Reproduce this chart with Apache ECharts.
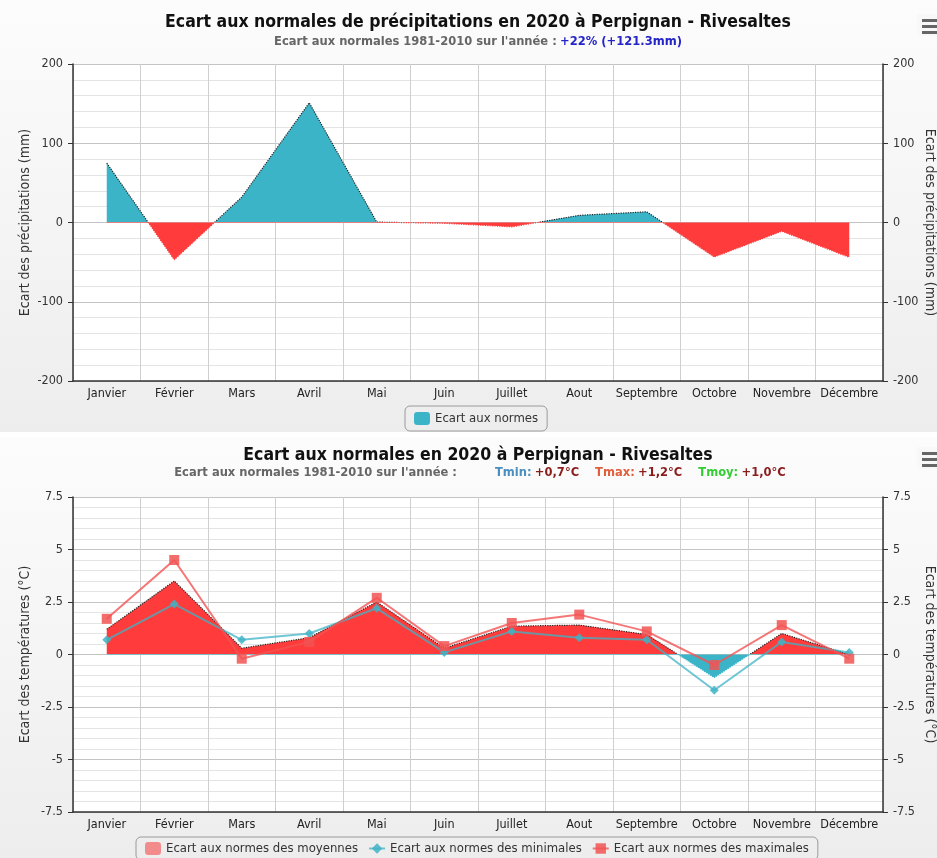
<!DOCTYPE html>
<html>
<head>
<meta charset="utf-8">
<script src="https://cdn.jsdelivr.net/npm/echarts@6/dist/echarts.min.js"></script>
<style>
  html, body { margin: 0; padding: 0; background: #fff; overflow: hidden; }
  #chart { width: 937px; height: 858px; }
</style>
</head>
<body>
<div id="chart"></div>
<script>
// données
const months = ['Janvier', 'Février', 'Mars', 'Avril', 'Mai', 'Juin', 'Juillet', 'Aout', 'Septembre', 'Octobre', 'Novembre', 'Décembre'];
const precipEcart = [75, -47, 32, 151, 0.5, -1, -5.5, 9, 13.5, -43.5, -11, -44];
const tmoyEcart = [1.2, 3.5, 0.3, 0.8, 2.5, 0.3, 1.35, 1.4, 0.95, -1.1, 1.0, 0];
const tminEcart = [0.7, 2.4, 0.7, 1.0, 2.2, 0.1, 1.1, 0.8, 0.7, -1.7, 0.6, 0.1];
const tmaxEcart = [1.7, 4.5, -0.2, 0.6, 2.7, 0.4, 1.5, 1.9, 1.1, -0.5, 1.4, -0.2];
const precipAxis = [-200, 200, 100]; // min, max, pas
const tempAxis = [-7.5, 7.5, 2.5];

const FONT = "'Liberation Sans Narrow', 'DejaVu Sans Condensed', sans-serif";
const BLUE = '#3cb4c8';
const RED = '#ff3b3b';

const chart = echarts.init(document.getElementById('chart'));

const xAxisBase = (gridIndex) => ({
  type: 'category',
  gridIndex,
  data: months,
  boundaryGap: true,
  axisLine: { onZero: false, lineStyle: { color: '#333', width: 1.5 } },
  axisTick: { length: 5, interval: 0, lineStyle: { color: '#333' } },
  axisLabel: { interval: 0, color: '#222', fontSize: 12.5, margin: 6, fontFamily: FONT },
  splitLine: { show: true, interval: 0, lineStyle: { color: '#cfcfcf' } },
});

const yAxisBase = (gridIndex, range, name, right) => ({
  type: 'value',
  gridIndex,
  position: right ? 'right' : 'left',
  min: range[0],
  max: range[1],
  interval: range[2],
  name,
  nameLocation: 'middle',
  nameGap: right ? 40 : 41,
  nameMoveOverlap: false,
  nameRotate: right ? -90 : 90,
  nameTextStyle: { color: '#333', fontSize: 14, fontFamily: FONT },
  axisLine: { show: true, onZero: false, lineStyle: { color: '#333', width: 1.5 } },
  axisTick: { show: true, length: 5, lineStyle: { color: '#333' } },
  axisLabel: { color: '#333', fontSize: 12.5, margin: 10, fontFamily: FONT },
  splitLine: { show: !right, lineStyle: { color: '#c4c4c4' } },
  minorTick: { show: false, splitNumber: 5 },
  minorSplitLine: { show: !right, lineStyle: { color: '#e4e4e4' } },
});

// couleurs selon le signe (bornes finies pour le dégradé)
const signPieces = (pos, neg, big) => [
  { gt: 0, lte: big, color: pos },
  { gte: -big, lte: 0, color: neg },
];

const menuIcon = (y) => ({
  type: 'group',
  z: 10,
  children: [
    { type: 'rect', shape: { x: 917, y: y - 8, width: 24, height: 22, r: 3 }, style: { fill: '#f8f8f8' } },
    { type: 'rect', shape: { x: 922, y: y - 3, width: 16, height: 3 }, style: { fill: '#666' } },
    { type: 'rect', shape: { x: 922, y: y + 3, width: 16, height: 3 }, style: { fill: '#666' } },
    { type: 'rect', shape: { x: 922, y: y + 9, width: 16, height: 3 }, style: { fill: '#666' } },
  ],
});

const bgGradient = new echarts.graphic.LinearGradient(0, 0, 0, 1, [
  { offset: 0, color: '#fcfcfc' },
  { offset: 1, color: '#ededed' },
]);

const option = {
  animation: false,
  textStyle: { fontFamily: FONT },
  graphic: [
    { type: 'rect', z: -1, shape: { x: 0, y: 0, width: 937, height: 432 }, style: { fill: bgGradient } },
    { type: 'rect', z: -1, shape: { x: 0, y: 437, width: 937, height: 421 }, style: { fill: bgGradient } },
    {
      type: 'text', x: 478, y: 22,
      style: {
        text: 'Ecart aux normales de précipitations en 2020 à Perpignan - Rivesaltes',
        fontFamily: FONT, fontSize: 17.5, fontWeight: 'bold', fill: '#111',
        textAlign: 'center', textVerticalAlign: 'middle',
      },
    },
    {
      type: 'text', x: 478, y: 42,
      style: {
        text: "{g|Ecart aux normales 1981-2010 sur l'année :} {b|+22% (+121.3mm)}",
        textAlign: 'center', textVerticalAlign: 'middle',
        rich: {
          g: { fontFamily: FONT, fontSize: 12.8, fontWeight: 'bold', fill: '#666' },
          b: { fontFamily: FONT, fontSize: 12.8, fontWeight: 'bold', fill: '#2424c8' },
        },
      },
    },
    {
      type: 'text', x: 478, y: 455,
      style: {
        text: 'Ecart aux normales en 2020 à Perpignan - Rivesaltes',
        fontFamily: FONT, fontSize: 17.5, fontWeight: 'bold', fill: '#111',
        textAlign: 'center', textVerticalAlign: 'middle',
      },
    },
    {
      type: 'text', x: 480, y: 473,
      style: {
        text: "{g|Ecart aux normales 1981-2010 sur l'année :}{s|}{tmin|Tmin:} {v|+0,7°C}{t|}{tmax|Tmax:} {v|+1,2°C}{t|}{tmoy|Tmoy:} {v|+1,0°C}",
        textAlign: 'center', textVerticalAlign: 'middle',
        rich: {
          g: { fontFamily: FONT, fontSize: 12.8, fontWeight: 'bold', fill: '#666' },
          s: { width: 38 },
          t: { width: 16 },
          tmin: { fontFamily: FONT, fontSize: 12.8, fontWeight: 'bold', fill: '#4a8fc0' },
          tmax: { fontFamily: FONT, fontSize: 12.8, fontWeight: 'bold', fill: '#e0603e' },
          tmoy: { fontFamily: FONT, fontSize: 12.8, fontWeight: 'bold', fill: '#33cc33' },
          v: { fontFamily: FONT, fontSize: 12.8, fontWeight: 'bold', fill: '#8b1c1c' },
        },
      },
    },
    menuIcon(22),
    menuIcon(455),
  ],
  grid: [
    { left: 73, right: 54, top: 64, height: 317, show: true, backgroundColor: '#fff', borderWidth: 0, outerBoundsMode: 'none' },
    { left: 73, right: 54, top: 497, height: 315, show: true, backgroundColor: '#fff', borderWidth: 0, outerBoundsMode: 'none' },
  ],
  xAxis: [xAxisBase(0), xAxisBase(1)],
  yAxis: [
    yAxisBase(0, precipAxis, 'Ecart des précipitations (mm)', false),
    yAxisBase(0, precipAxis, 'Ecart des précipitations (mm)', true),
    yAxisBase(1, tempAxis, 'Ecart des températures (°C)', false),
    yAxisBase(1, tempAxis, 'Ecart des températures (°C)', true),
  ],
  visualMap: [
    { type: 'piecewise', show: false, seriesIndex: 0, dimension: 1, pieces: signPieces(BLUE, RED, 1000) },
    { type: 'piecewise', show: false, seriesIndex: 1, dimension: 1, pieces: signPieces('#222', RED, 1000) },
    { type: 'piecewise', show: false, seriesIndex: 2, dimension: 1, pieces: signPieces(RED, BLUE, 100) },
    { type: 'piecewise', show: false, seriesIndex: 3, dimension: 1, pieces: signPieces('#222', BLUE, 100) },
  ],
  legend: [
    {
      left: 405, top: 406,
      data: [{ name: 'Ecart aux normes', icon: 'roundRect', itemStyle: { color: BLUE } }],
      itemWidth: 16, itemHeight: 13,
      padding: [6, 9], borderColor: '#9a9a9a', borderWidth: 1, borderRadius: 5,
      textStyle: { color: '#333', fontSize: 13, fontFamily: FONT },
    },
    {
      left: 136, top: 837,
      data: [
        { name: 'Ecart aux normes des moyennes', icon: 'roundRect', itemStyle: { color: '#f28c8c' } },
        { name: 'Ecart aux normes des minimales' },
        { name: 'Ecart aux normes des maximales' },
      ],
      itemWidth: 16, itemHeight: 13, itemGap: 10,
      padding: [5, 9], borderColor: '#9a9a9a', borderWidth: 1, borderRadius: 5,
      textStyle: { color: '#333', fontSize: 13, fontFamily: FONT },
    },
  ],
  series: [
    {
      name: 'Ecart aux normes', type: 'line', xAxisIndex: 0, yAxisIndex: 0,
      data: precipEcart, showSymbol: false,
      lineStyle: { opacity: 0 }, areaStyle: { opacity: 1 }, z: 2,
    },
    {
      name: 'contour précipitations', type: 'line', xAxisIndex: 0, yAxisIndex: 0,
      data: precipEcart, showSymbol: false, silent: true,
      lineStyle: { type: 'dotted', width: 1.2 }, z: 3,
    },
    {
      name: 'Ecart aux normes des moyennes', type: 'line', xAxisIndex: 1, yAxisIndex: 2,
      data: tmoyEcart, showSymbol: false,
      lineStyle: { opacity: 0 }, areaStyle: { opacity: 1 }, z: 2,
    },
    {
      name: 'contour moyennes', type: 'line', xAxisIndex: 1, yAxisIndex: 2,
      data: tmoyEcart, showSymbol: false, silent: true,
      lineStyle: { type: 'dotted', width: 1.2 }, z: 3,
    },
    {
      name: 'Ecart aux normes des minimales', type: 'line', xAxisIndex: 1, yAxisIndex: 2,
      data: tminEcart, symbol: 'diamond', symbolSize: 9,
      itemStyle: { color: '#3fb3c6', opacity: 0.85 },
      lineStyle: { color: '#3fb3c6', width: 2, opacity: 0.75 }, z: 4,
    },
    {
      name: 'Ecart aux normes des maximales', type: 'line', xAxisIndex: 1, yAxisIndex: 2,
      data: tmaxEcart, symbol: 'rect', symbolSize: 10,
      itemStyle: { color: '#f25454', opacity: 0.85 },
      lineStyle: { color: '#f25454', width: 2, opacity: 0.8 }, z: 5,
    },
  ],
};

chart.setOption(option);
</script>
</body>
</html>
